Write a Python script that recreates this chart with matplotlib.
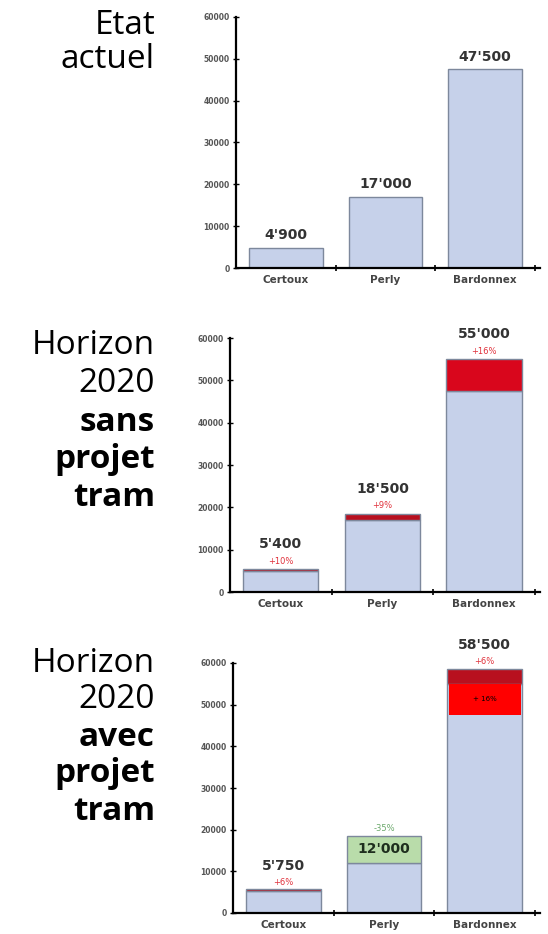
import matplotlib.pyplot as plt
from matplotlib.ticker import FixedLocator

# data
categories = ['Certoux', 'Perly', 'Bardonnex']
etat_actuel = [4900, 17000, 47500]
sans_tram = [5400, 18500, 55000]
avec_tram = [5750, 12000, 58500]
pct_sans = ['+10%', '+9%', '+16%']
pct_avec = ['+6%', '-35%', '+6%']
y_ticks = [0, 10000, 20000, 30000, 40000, 50000, 60000]

BLUE = '#c6d1ea'
EDGE = '#7d889c'
RED = '#d9061c'
DARKRED = '#b8101f'
GREEN = '#b9dcaa'
TXT = '#333333'


def fmt(v):
    return f"{v:,}".replace(',', "'")


def setup_axis(ax):
    ax.set_xlim(-0.5, 2.55)
    ax.set_ylim(0, 60000)
    ax.set_xticks(range(len(categories)))
    ax.set_xticklabels(categories, fontsize=7.5, fontweight='bold', color='#444444')
    ax.xaxis.set_minor_locator(FixedLocator([0.5, 1.5, 2.5]))
    ax.tick_params(axis='x', which='major', length=0, pad=5)
    ax.tick_params(axis='x', which='minor', length=4, direction='inout', width=1.2)
    ax.set_yticks(y_ticks)
    ax.set_yticklabels([str(t) for t in y_ticks], fontsize=5.5, fontweight='bold', color='#555555')
    ax.tick_params(axis='y', length=5, direction='inout', width=1, pad=2)
    for s in ['top', 'right']:
        ax.spines[s].set_visible(False)
    ax.spines['left'].set_linewidth(1.6)
    ax.spines['bottom'].set_linewidth(1.6)


fig = plt.figure(figsize=(5.48, 9.34), dpi=100)
W, H = 548, 934

def axes_px(x0, x1, ytop, ybot):
    return fig.add_axes([x0 / W, 1 - ybot / H, (x1 - x0) / W, (ybot - ytop) / H])

x = range(len(categories))
bw = 0.74

# panel 1 : etat actuel
ax1 = axes_px(236, 540, 17, 268)
setup_axis(ax1)
ax1.bar(x, etat_actuel, bw, color=BLUE, edgecolor=EDGE, linewidth=1)
for i, v in enumerate(etat_actuel):
    ax1.text(i, v + 1300, fmt(v), ha='center', va='bottom', fontsize=10, fontweight='bold', color=TXT)

# panel 2 : horizon 2020 sans projet tram
ax2 = axes_px(230, 540, 338, 592)
setup_axis(ax2)
ax2.bar(x, etat_actuel, bw, color=BLUE, edgecolor=EDGE, linewidth=1)
inc = [s - e for s, e in zip(sans_tram, etat_actuel)]
reds2 = [DARKRED, DARKRED, RED]
ax2.bar(x, inc, bw, bottom=etat_actuel, color=reds2, edgecolor=EDGE, linewidth=1)
for i, v in enumerate(sans_tram):
    ax2.text(i, v + 800, pct_sans[i], ha='center', va='bottom', fontsize=6, color='#e0303a')
    ax2.text(i, v + 4200, fmt(v), ha='center', va='bottom', fontsize=10, fontweight='bold', color=TXT)

# panel 3 : horizon 2020 avec projet tram
ax3 = axes_px(233, 540, 663, 913)
setup_axis(ax3)
base3 = [sans_tram[0], avec_tram[1], sans_tram[2]]
ax3.bar(x, base3, bw, color=BLUE, edgecolor=EDGE, linewidth=1)
top3 = [avec_tram[0], sans_tram[1], avec_tram[2]]
seg3 = [t - b for t, b in zip(top3, base3)]
ax3.bar(x, seg3, bw, bottom=base3, color=[DARKRED, GREEN, DARKRED], edgecolor=EDGE, linewidth=1)
# bright red box showing the +16% from panel 2
ax3.bar(2, sans_tram[2] - etat_actuel[2], bw * 0.97, bottom=etat_actuel[2], color='#ff0000', linewidth=0)
ax3.text(2, (sans_tram[2] + etat_actuel[2]) / 2, '+ 16%', ha='center', va='center', fontsize=5, color='black')

ax3.text(0, avec_tram[0] + 500, pct_avec[0], ha='center', va='bottom', fontsize=6, color='#e0303a')
ax3.text(0, avec_tram[0] + 3800, fmt(avec_tram[0]), ha='center', va='bottom', fontsize=10, fontweight='bold', color=TXT)
ax3.text(1, sans_tram[1] + 700, pct_avec[1], ha='center', va='bottom', fontsize=6, color='#6aa86a')
ax3.text(1, (sans_tram[1] + avec_tram[1]) / 2, fmt(avec_tram[1]), ha='center', va='center', fontsize=10, fontweight='bold', color='#1e2e1e')
ax3.text(2, avec_tram[2] + 800, pct_avec[2], ha='center', va='bottom', fontsize=6, color='#e0303a')
ax3.text(2, avec_tram[2] + 4200, fmt(avec_tram[2]), ha='center', va='bottom', fontsize=10, fontweight='bold', color=TXT, clip_on=False)

# row titles on the left
rows = [
    ('Etat', 25, 'normal'), ('actuel', 59, 'normal'),
    ('Horizon', 345, 'normal'), ('2020', 384, 'normal'), ('sans', 422, 'bold'),
    ('projet', 460, 'bold'), ('tram', 497, 'bold'),
    ('Horizon', 663, 'normal'), ('2020', 699, 'normal'), ('avec', 737, 'bold'),
    ('projet', 774, 'bold'), ('tram', 811, 'bold'),
]
for txt, ypx, wt in rows:
    fig.text(155 / W, 1 - ypx / H, txt, ha='right', va='center', fontsize=24,
             fontweight=wt, family='Open Sans', color='black')

fig.savefig('out.png', dpi=100)
